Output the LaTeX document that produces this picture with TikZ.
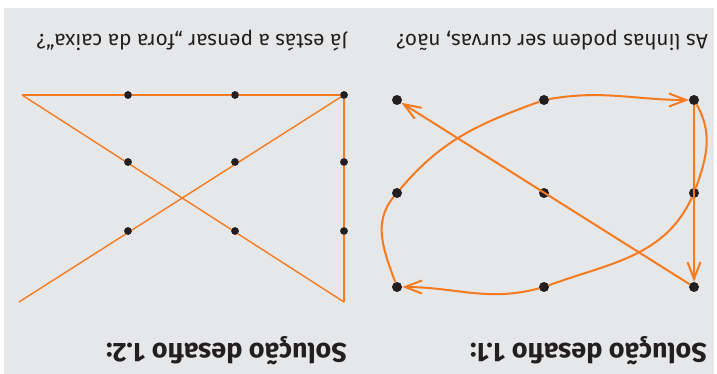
\documentclass[tikz,border=0pt]{standalone}
\usepackage{fontspec}
\setmainfont{Fira Sans}
\usetikzlibrary{arrows.meta}
\definecolor{bggray}{HTML}{E6E7E8}
\definecolor{lineorange}{HTML}{F47B20}
\definecolor{dotblack}{HTML}{231F20}
\tikzset{
  bigdot/.style={circle,fill=dotblack,inner sep=0pt,minimum size=10pt},
  smalldot/.style={circle,fill=dotblack,inner sep=0pt,minimum size=7.5pt},
  curveline/.style={draw=lineorange,line width=2pt},
  thinline/.style={draw=lineorange,line width=1.4pt},
  arr/.style={-{Straight Barb[length=17pt,width=13pt,line width=2pt]}},
  subtitle/.style={rotate=180,anchor=base west,inner sep=0pt,text=dotblack,font=\fontsize{20.8}{22}\selectfont},
  title/.style={rotate=180,anchor=base west,inner sep=0pt,text=dotblack,font=\fontsize{27}{29}\selectfont\bfseries},
}
\begin{document}
\begin{tikzpicture}[x=1pt,y=1pt]
\useasboundingbox (0,0) rectangle (717,-374);
\fill[bggray] (4,-8) rectangle (714,-374);

% ---- right panel (Solucao 1.1) ----
\node[bigdot] (A) at (397,-100) {};
\node[bigdot] (B) at (544,-100) {};
\node[bigdot] (C) at (694,-100) {};
\node[bigdot] (D) at (397,-193) {};
\node[bigdot] (E) at (544,-193) {};
\node[bigdot] (F) at (694,-193) {};
\node[bigdot] (G) at (397,-287) {};
\node[bigdot] (H) at (544,-287) {};
\node[bigdot] (I) at (694,-287) {};

\draw[curveline] (C) to[out=-60,in=70] (F);
\draw[curveline] (F) to[out=-115,in=20] (H);
\draw[curveline,arr] (H) to[out=195,in=0] (G);
\draw[curveline] (G) to[out=110,in=-130] (D);
\draw[curveline] (D) to[out=50,in=-160] (B);
\draw[curveline,arr] (B) to[out=10,in=180] (C);
\draw[curveline,arr] (C) -- (I);
\draw[curveline,arr] (I) -- (A);

% ---- left panel (Solucao 1.2) ----
\node[smalldot] (l11) at (128,-95) {};
\node[smalldot] (l12) at (235,-95) {};
\node[smalldot] (l13) at (344,-95) {};
\node[smalldot] (l21) at (128,-162) {};
\node[smalldot] (l22) at (235,-162) {};
\node[smalldot] (l23) at (344,-162) {};
\node[smalldot] (l31) at (128,-231) {};
\node[smalldot] (l32) at (235,-231) {};
\node[smalldot] (l33) at (344,-231) {};
\coordinate (p0) at (19,-302);
\coordinate (p2) at (344,-302);
\coordinate (p3) at (22,-95);

\draw[thinline] (p0) -- (l13.center);
\draw[thinline] (l13.center) -- (p2);
\draw[thinline] (p2) -- (p3);
\draw[thinline] (p3) -- (l13.center);
\foreach \n in {l11,l12,l13,l21,l22,l23,l31,l32,l33}
  \fill[dotblack] (\n) circle (3.75pt);

% ---- texts ----
\node[subtitle] (st1) at (708,-35) {As linhas podem ser curvas, não?};
\node[subtitle] (st2) at (348,-35) {Já estás a pensar „fora da caixa“?};
\node[title] (t1) at (707,-343) {Solução desafio 1.1:};
\node[title] (t2) at (347,-343) {Solução desafio 1.2:};
\end{tikzpicture}
\end{document}
